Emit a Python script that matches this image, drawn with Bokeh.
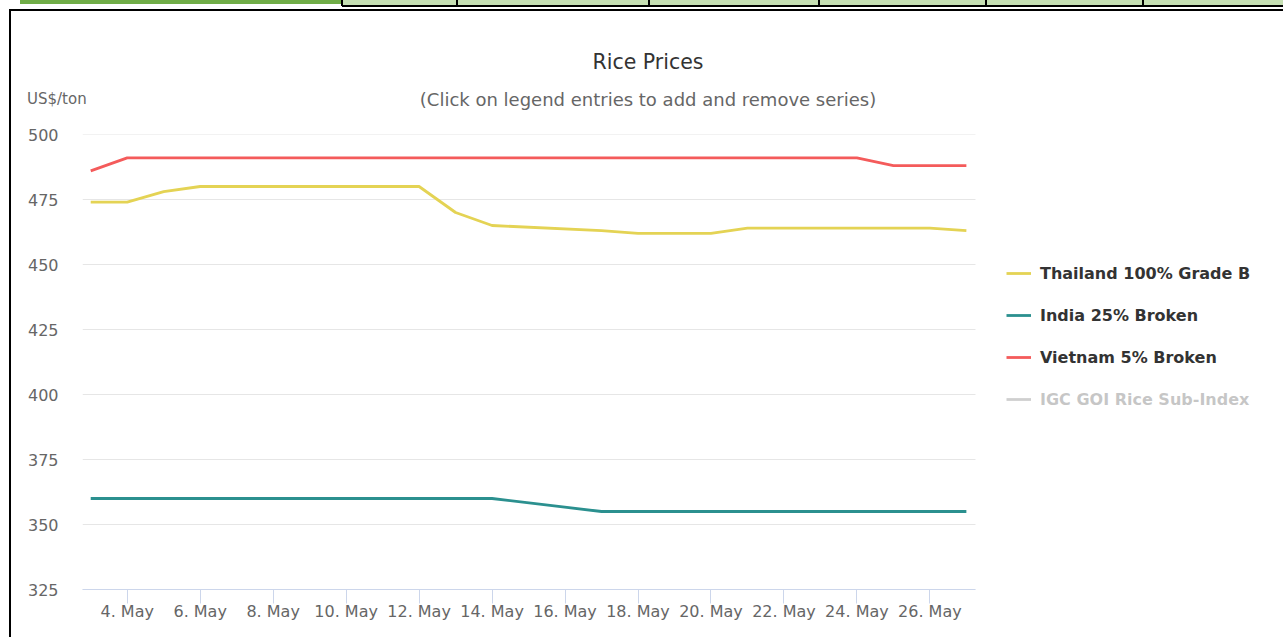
import pandas as pd
from bokeh.plotting import figure
from bokeh.layouts import column
from bokeh.models import (FixedTicker, Range1d, CustomJSTickFormatter, Legend, Div)
from bokeh.embed import file_html
from bokeh.resources import INLINE

# ---------------- data ----------------
dates = ["2021-05-03", "2021-05-04", "2021-05-05", "2021-05-06", "2021-05-07",
         "2021-05-10", "2021-05-11", "2021-05-12", "2021-05-13", "2021-05-14",
         "2021-05-17", "2021-05-18", "2021-05-19", "2021-05-20", "2021-05-21",
         "2021-05-24", "2021-05-25", "2021-05-26", "2021-05-27"]
thailand = [474, 474, 478, 480, 480,
            480, 480, 480, 470, 465,
            463, 462, 462, 462, 464,
            464, 464, 464, 463]
india = [360, 360, 360, 360, 360,
         360, 360, 360, 360, 360,
         355, 355, 355, 355, 355,
         355, 355, 355, 355]
vietnam = [486, 491, 491, 491, 491,
           491, 491, 491, 491, 491,
           491, 491, 491, 491, 491,
           491, 488, 488, 488]
# hidden series (switched off in the legend): no visible values
igc_dates = ["2021-05-03"]
igc = [float("nan")]

series_names = ["Thailand 100% Grade B", "India 25% Broken",
                "Vietnam 5% Broken", "IGC GOI Rice Sub-Index"]
title_text = "Rice Prices"
subtitle_text = "(Click on legend entries to add and remove series)"
unit_text = "US$/ton"
y_ticks = [325, 350, 375, 400, 425, 450, 475, 500]
tick_dates = ["2021-05-04", "2021-05-06", "2021-05-08", "2021-05-10",
              "2021-05-12", "2021-05-14", "2021-05-16", "2021-05-18",
              "2021-05-20", "2021-05-22", "2021-05-24", "2021-05-26"]
tick_labels = ["4. May", "6. May", "8. May", "10. May", "12. May", "14. May",
               "16. May", "18. May", "20. May", "22. May", "24. May", "26. May"]

# ---------------- layout ----------------
W, H = 1283, 637
FL, FR, FT, FB = 82, 975, 134, 589   # visible plot area (pixels)
FONT = "DejaVu Sans"

x = pd.to_datetime(dates)
tick_ms = [int(pd.Timestamp(d).value // 10**6) for d in tick_dates]

# the canvas frame runs to the right edge so that the legend (drawn inside it)
# is not clipped; the visible plot area ends at FR
x_start = x[0] - pd.Timedelta(hours=5.4)
x_data_end = x[-1] + pd.Timedelta(hours=6.0)
x_full_end = x_start + (x_data_end - x_start) * ((W - FL) / (FR - FL))

p = figure(width=W, height=H, output_backend="svg", toolbar_location=None,
           x_axis_type="datetime",
           x_range=Range1d(x_start, x_full_end),
           y_range=Range1d(y_ticks[0], y_ticks[-1]),
           min_border_left=FL, min_border_right=0,
           min_border_top=FT, min_border_bottom=H - FB,
           background_fill_color="white", border_fill_color="white")
p.outline_line_color = None
p.title.visible = False

# axes
xa = p.xaxis[0]
xa.bounds = (x_start, x_data_end)
xa.ticker = FixedTicker(ticks=tick_ms)
xa.formatter = CustomJSTickFormatter(code="return '';")
xa.major_label_overrides = {t: l for t, l in zip(tick_ms, tick_labels)}
xa.axis_line_color = "#ccd6eb"
xa.major_tick_line_color = "#ccd6eb"
xa.major_tick_out = 14
xa.major_tick_in = 0
xa.minor_tick_out = 0
xa.minor_tick_in = 0
xa.major_label_standoff = -2
xa.major_label_text_font = FONT
xa.major_label_text_font_size = "16px"
xa.major_label_text_color = "#666666"

ya = p.yaxis[0]
ya.ticker = FixedTicker(ticks=y_ticks)
ya.axis_line_color = None
ya.major_tick_line_color = None
ya.minor_tick_line_color = None
ya.major_tick_out = 0
ya.major_tick_in = 0
ya.major_label_standoff = 24
ya.major_label_text_font = FONT
ya.major_label_text_font_size = "16px"
ya.major_label_text_color = "#666666"

p.xgrid.grid_line_color = None
p.ygrid.grid_line_color = None
# horizontal grid lines limited to the visible plot area
n = len(y_ticks)
p.segment(x0=[x_start] * n, x1=[x_data_end] * n, y0=y_ticks, y1=y_ticks,
          line_color="#e6e6e6", line_width=1)

# lines
colors = ["#e4d354", "#2b908f", "#f45b5b", "#555555"]
r1 = p.line(x, thailand, line_color=colors[0], line_width=2.8)
r2 = p.line(x, india, line_color=colors[1], line_width=2.8)
r3 = p.line(x, vietnam, line_color=colors[2], line_width=2.8)
r4 = p.line(pd.to_datetime(igc_dates), igc, line_color=colors[3], line_width=2.8)
r4.visible = False

lg = Legend(items=[(series_names[0], [r1]), (series_names[1], [r2]),
                   (series_names[2], [r3]), (series_names[3], [r4])])
lg.location = (1006 - FL, FB - 409)
lg.click_policy = "hide"
lg.inactive_fill_color = "white"
lg.inactive_fill_alpha = 0.72
lg.background_fill_alpha = 0
lg.border_line_color = None
lg.padding = 0
lg.margin = 0
lg.glyph_width = 25
lg.glyph_height = 20
lg.label_height = 20
lg.label_standoff = 9
lg.spacing = 22
lg.label_text_font = FONT
lg.label_text_font_style = "bold"
lg.label_text_font_size = "16px"
lg.label_text_color = "#333333"
p.add_layout(lg)


# ---------- page overlay: frame, top strip, title texts ----------
def rect(x0, x1, y0, y1, color):
    return (f'<div style="position:absolute;left:{x0}px;top:{y0}px;'
            f'width:{x1 - x0}px;height:{y1 - y0}px;background:{color};"></div>')


def text(t, left, top, size, color, center=False):
    tr = "transform:translateX(-50%);" if center else ""
    return (f'<span style="position:absolute;left:{left}px;top:{top}px;{tr}'
            f"font-family:'{FONT}';font-size:{size}px;line-height:{size}px;"
            f'color:{color};white-space:nowrap;">{t}</span>')


parts = [rect(20, 342, 0, 4, "#70ad47"),
         rect(342, 1283, 0, 5, "#c6e0b4"),
         rect(342, 1283, 5, 7, "#000000")]
for vx in [342, 457, 649, 819, 986, 1143]:
    parts.append(rect(vx - 1, vx + 1, 0, 6, "#000000"))
parts.append(rect(9, 1283, 9, 11, "#000000"))
parts.append(rect(9, 11, 9, 637, "#000000"))
parts.append(text(title_text, 648, 52, 20.5, "#333333", center=True))
parts.append(text(subtitle_text, 648, 91, 18, "#666666", center=True))
parts.append(text(unit_text, 27, 92, 15, "#666666"))

overlay = Div(text=('<div style="position:relative;width:%dpx;height:%dpx;">' % (W, H))
              + "".join(parts) + "</div>",
              width=W, height=H, margin=0,
              styles={"position": "absolute", "left": "0px", "top": "0px",
                      "pointer-events": "none"})

page = column(p, overlay, width=W, height=H, margin=0,
              styles={"overflow": "hidden", "position": "relative"})
open("out.html", "w").write(file_html(page, INLINE))
